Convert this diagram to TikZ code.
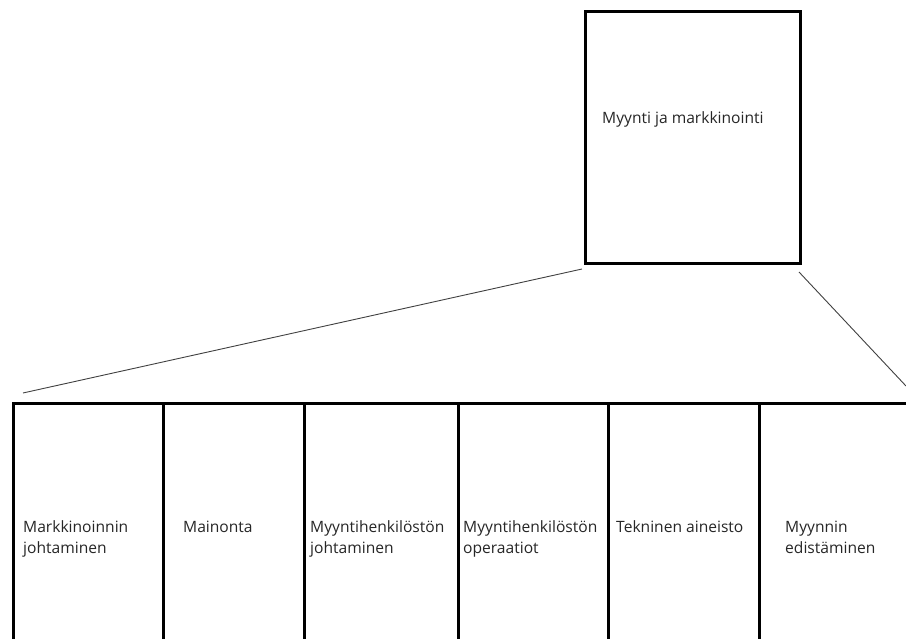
\documentclass[tikz,border=0pt]{standalone}
\usepackage{fontspec}
\setmainfont{Open Sans}
\begin{document}
\begin{tikzpicture}[x=1pt,y=-1pt,
  box/.style={draw=black,line width=2.6pt,inner sep=0pt,anchor=north west},
  lbl/.style={anchor=base west,inner sep=0pt,text=black!85,font=\fontsize{15.6}{21}\selectfont,align=left},
  conn/.style={draw=black!75,line width=0.9pt}]
\useasboundingbox (0,0) rectangle (906,639);
\clip (0,0) rectangle (906,639);
% top box
\node[box,minimum width=215pt,minimum height=252pt] (top) at (584,10) {};
\node[lbl] (topl) at (602,124) {Myynti ja markkinointi};
% bottom cells
\node[box,minimum width=150pt,minimum height=260pt] (c1) at (12,402) {};
\node[box,minimum width=141pt,minimum height=260pt] (c2) at (162,402) {};
\node[box,minimum width=154pt,minimum height=260pt] (c3) at (303,402) {};
\node[box,minimum width=150pt,minimum height=260pt] (c4) at (457,402) {};
\node[box,minimum width=151pt,minimum height=260pt] (c5) at (607,402) {};
\node[box,minimum width=160pt,minimum height=260pt] (c6) at (758,402) {};
\node[lbl] (l1) at (23,553) {Markkinoinnin\\johtaminen};
\node[lbl] (l2) at (183,532) {Mainonta};
\node[lbl] (l3) at (310,553) {Myyntihenkilöstön\\johtaminen};
\node[lbl] (l4) at (463,553) {Myyntihenkilöstön\\operaatiot};
\node[lbl] (l5) at (616,532) {Tekninen aineisto};
\node[lbl] (l6) at (785,553) {Myynnin\\edistäminen};
% connectors
\coordinate (a1) at (582,269);
\coordinate (a2) at (23,393);
\coordinate (b1) at (799,272);
\coordinate (b2) at (906,386);
\draw[conn] (a1) -- (a2);
\draw[conn] (b1) -- (b2);
\end{tikzpicture}
\end{document}
